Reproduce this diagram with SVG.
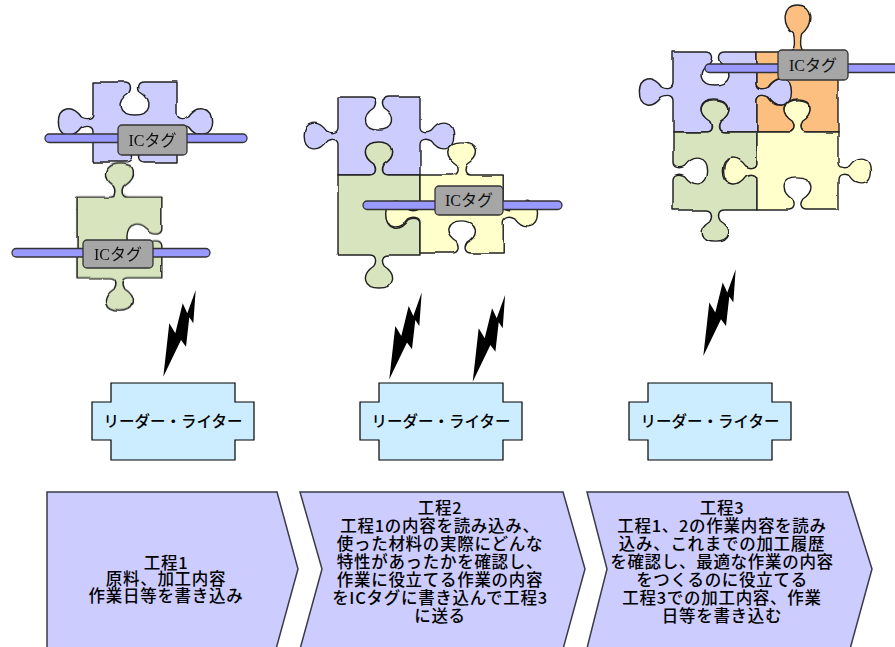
<svg xmlns="http://www.w3.org/2000/svg" xmlns:xlink="http://www.w3.org/1999/xlink" width="895" height="647" viewBox="0 0 895 647">
  <style>
    .pc { stroke: #222; stroke-width: 1.4; stroke-linejoin: round; }
    .blue { fill: #CCCCFF; }
    .green { fill: #D7E4BD; }
    .yellow { fill: #FFFFCC; }
    .orange { fill: #FDBF80; }
    .bar { fill: #9999FF; stroke: #333; stroke-width: 1.3; }
    .tag { fill: #A6A6A6; stroke: #333; stroke-width: 1.3; }
    .tagt { font-family: "Liberation Serif", "Noto Sans CJK JP", serif; font-size: 16px; text-anchor: middle; fill: #111; }
    .rw { fill: #CCECFF; stroke: #000; stroke-width: 1.2; }
    .rwt { font-family: "Noto Sans CJK JP", "Noto Sans CJK SC", sans-serif; font-size: 15.5px; font-weight: 500; text-anchor: middle; fill: #000; }
    .chev { fill: #CCCCFF; stroke: #3a3a48; stroke-width: 1.5; stroke-linejoin: miter; }
    .ct { font-family: "Noto Sans CJK JP", "Noto Sans CJK SC", sans-serif; font-size: 16.5px; font-weight: 500; letter-spacing: 0.7px; text-anchor: middle; fill: #000; }
    .bolt { fill: #000; }
  </style>
  <defs>
    <!-- slight hand-drawn wobble for the puzzle outlines -->
    <filter id="wob" x="-10%" y="-10%" width="120%" height="120%">
      <feTurbulence type="fractalNoise" baseFrequency="0.035" numOctaves="2" seed="3" result="n"/>
      <feDisplacementMap in="SourceGraphic" in2="n" scale="3.5" xChannelSelector="R" yChannelSelector="G"/>
    </filter>
    <!-- puzzle pieces on an 80x80 body; knobs are tabs (out) or blanks (in) -->
    <!-- A: top blank, right tab, bottom blank, left tab -->
    <path id="pA" d="M0,0 L31,0 C37,0 38,6 35,11 C22,20 25,33 40,33 C55,33 58,20 45,11 C42,6 43,0 49,0 L80,0
      L80,31 C80,37 86,38 91,35 C100,22 113,25 113,40 C113,55 100,58 91,45 C86,42 80,43 80,49 L80,80
      L49,80 C43,80 42,74 45,69 C58,60 55,47 40,47 C25,47 22,60 35,69 C38,74 37,80 31,80 L0,80
      L0,49 C0,43 -6,42 -11,45 C-20,58 -33,55 -33,40 C-33,25 -20,22 -11,35 C-6,38 0,37 0,31 Z"/>
    <!-- B: top tab, right blank, bottom tab, left flat -->
    <path id="pB" d="M0,0 L31,0 C37,0 38,-6 35,-11 C22,-20 25,-33 40,-33 C55,-33 58,-20 45,-11 C42,-6 43,0 49,0 L80,0
      L80,31 C80,37 74,38 69,35 C60,22 47,25 47,40 C47,55 60,58 69,45 C74,42 80,43 80,49 L80,80
      L49,80 C43,80 42,86 45,91 C58,100 55,113 40,113 C25,113 22,100 35,91 C38,86 37,80 31,80 L0,80 Z"/>
    <!-- C: top tab, right tab, bottom blank, left tab -->
    <path id="pC" d="M0,0 L31,0 C37,0 38,-6 35,-11 C22,-20 25,-33 40,-33 C55,-33 58,-20 45,-11 C42,-6 43,0 49,0 L80,0
      L80,31 C80,37 86,38 91,35 C100,22 113,25 113,40 C113,55 100,58 91,45 C86,42 80,43 80,49 L80,80
      L49,80 C43,80 42,74 45,69 C58,60 55,47 40,47 C25,47 22,60 35,69 C38,74 37,80 31,80 L0,80
      L0,49 C0,43 -6,42 -11,45 C-20,58 -33,55 -33,40 C-33,25 -20,22 -11,35 C-6,38 0,37 0,31 Z"/>
    <!-- D: long top tab, right flat, bottom blank, left blank -->
    <path id="pD" d="M0,0 L31,0 C37,0 38,-8 36,-18 C24,-28 25,-47 40,-47 C55,-47 56,-28 44,-18 C42,-8 43,0 49,0 L80,0
      L80,80
      L49,80 C43,80 42,74 45,69 C58,60 55,47 40,47 C25,47 22,60 35,69 C38,74 37,80 31,80 L0,80
      L0,49 C0,43 6,42 11,45 C20,58 33,55 33,40 C33,25 20,22 11,35 C6,38 0,37 0,31 Z"/>
    <!-- E: top tab, right blank, bottom tab, left blank -->
    <path id="pE" d="M0,0 L31,0 C37,0 38,-6 35,-11 C22,-20 25,-33 40,-33 C55,-33 58,-20 45,-11 C42,-6 43,0 49,0 L80,0
      L80,31 C80,37 74,38 69,35 C60,22 47,25 47,40 C47,55 60,58 69,45 C74,42 80,43 80,49 L80,80
      L49,80 C43,80 42,86 45,91 C58,100 55,113 40,113 C25,113 22,100 35,91 C38,86 37,80 31,80 L0,80
      L0,49 C0,43 6,42 11,45 C20,58 33,55 33,40 C33,25 20,22 11,35 C6,38 0,37 0,31 Z"/>
    <!-- lightning bolt, anchored at its lower tip -->
    <polygon id="bolt" points="32.4,-86.7 30,-53.4 26,-59.4 22.7,-30 17.7,-36.7 0,0 6,-53.4 12,-43.4 19.4,-73.4 24,-63.4"/>
  </defs>

  <!-- step 1: two separate pieces, each with its own tag -->
  <g id="puzzle1">
    <g filter="url(#wob)">
      <use xlink:href="#pA" class="pc blue" transform="translate(93,82) scale(1.05,1)"/>
      <use xlink:href="#pB" class="pc green" transform="translate(77,197) scale(1.06,1.01)"/>
    </g>
    <rect class="bar" x="45" y="134" width="202" height="8.5" rx="4.2"/>
    <rect class="tag" x="118" y="125" width="69" height="30" rx="4"/>
    <text class="tagt" x="152.5" y="145.5">ICタグ</text>
    <rect class="bar" x="12" y="248.5" width="198" height="8.5" rx="4.2"/>
    <rect class="tag" x="83" y="240" width="70" height="28" rx="4"/>
    <text class="tagt" x="118" y="259.5">ICタグ</text>
  </g>

  <!-- step 2: three joined pieces -->
  <g id="puzzle2">
    <g filter="url(#wob)">
      <use xlink:href="#pA" class="pc blue" transform="translate(338,97) scale(1.025,0.975)"/>
      <use xlink:href="#pB" class="pc green" transform="translate(338,175) scale(1.025,1)"/>
      <use xlink:href="#pC" class="pc yellow" transform="translate(420,175) scale(1.04,0.975)"/>
    </g>
    <rect class="bar" x="363" y="201" width="199" height="8.5" rx="4.2"/>
    <rect class="tag" x="435" y="186" width="68" height="29" rx="4"/>
    <text class="tagt" x="469" y="206">ICタグ</text>
  </g>

  <!-- step 3: four joined pieces -->
  <g id="puzzle3">
    <g filter="url(#wob)">
      <use xlink:href="#pA" class="pc blue" transform="translate(673,52) scale(1.05,1)"/>
      <use xlink:href="#pD" class="pc orange" transform="translate(757,52) scale(1.0125,1)"/>
      <use xlink:href="#pE" class="pc green" transform="translate(673,132) scale(1.05,0.975)"/>
      <use xlink:href="#pC" class="pc yellow" transform="translate(757,132) scale(1.0125,0.975)"/>
    </g>
    <rect class="bar" x="705" y="64" width="200" height="8.5" rx="4.2"/>
    <rect class="tag" x="778" y="50" width="70" height="30" rx="4"/>
    <text class="tagt" x="813" y="70.5">ICタグ</text>
  </g>

  <!-- wireless links -->
  <g id="links">
    <use xlink:href="#bolt" class="bolt" transform="translate(163.3,376.7)"/>
    <use xlink:href="#bolt" class="bolt" transform="translate(389.3,379.3)"/>
    <use xlink:href="#bolt" class="bolt" transform="translate(472.7,381.7)"/>
    <use xlink:href="#bolt" class="bolt" transform="translate(703.3,356)"/>
  </g>

  <!-- reader/writer units -->
  <g id="rw1">
    <path class="rw" d="M111,383 H235 V402 H254 V440 H235 V460 H111 V440 H92 V402 H111 Z"/>
    <text class="rwt" x="173" y="427">リーダー・ライター</text>
  </g>
  <g id="rw2">
    <path class="rw" d="M379,383 H503 V402 H522 V440 H503 V460 H379 V440 H360 V402 H379 Z"/>
    <text class="rwt" x="441" y="427">リーダー・ライター</text>
  </g>
  <g id="rw3">
    <path class="rw" d="M648,383 H772 V402 H791 V440 H772 V460 H648 V440 H629 V402 H648 Z"/>
    <text class="rwt" x="710" y="427">リーダー・ライター</text>
  </g>

  <!-- process steps -->
  <g id="step1">
    <polygon class="chev" points="47,492 277,492 298,569 273,660 47,660"/>
    <text class="ct" x="166" y="568.5">工程1</text>
    <text class="ct" x="166" y="585.2">原料、加工内容</text>
    <text class="ct" x="166" y="601.9">作業日等を書き込み</text>
  </g>
  <g id="step2">
    <polygon class="chev" points="300,492 563,492 585,569 560,660 297,660 322,569"/>
    <text class="ct" x="440" y="514.2">工程2</text>
    <text class="ct" x="440" y="532.2">工程1の内容を読み込み、</text>
    <text class="ct" x="440" y="550.2">使った材料の実際にどんな</text>
    <text class="ct" x="440" y="568.2">特性があったかを確認し、</text>
    <text class="ct" x="440" y="586.2">作業に役立てる作業の内容</text>
    <text class="ct" x="440" y="604.2">をICタグに書き込んで工程3</text>
    <text class="ct" x="440" y="622.2">に送る</text>
  </g>
  <g id="step3">
    <polygon class="chev" points="587,492 848,492 872,569 847,660 584,660 607,569"/>
    <text class="ct" x="722" y="514.2">工程3</text>
    <text class="ct" x="722" y="532.2">工程1、2の作業内容を読み</text>
    <text class="ct" x="722" y="550.2">込み、これまでの加工履歴</text>
    <text class="ct" x="722" y="568.2">を確認し、最適な作業の内容</text>
    <text class="ct" x="722" y="586.2">をつくるのに役立てる</text>
    <text class="ct" x="722" y="604.2">工程3での加工内容、作業</text>
    <text class="ct" x="722" y="622.2">日等を書き込む</text>
  </g>
</svg>
